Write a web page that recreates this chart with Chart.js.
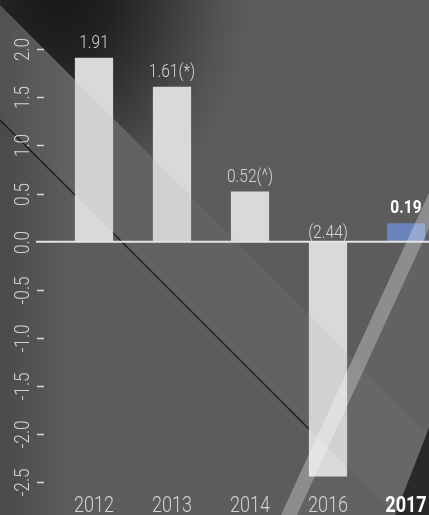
<!DOCTYPE html>
<html>
<head>
<meta charset="utf-8">
<script src="https://cdn.jsdelivr.net/npm/chart.js@4/dist/chart.umd.min.js"></script>
<style>
    html, body { margin: 0; padding: 0; background: #5c5c5c; overflow: hidden; }
    #wrap { width: 429px; height: 515px; overflow: hidden; }
    canvas { display: block; }
</style>
</head>
<body>
<div id="wrap"><canvas id="chart" width="460" height="515"></canvas></div>
<script>
const years = ['2012', '2013', '2014', '2016', '2017'];
const values = [1.91, 1.61, 0.52, -2.44, 0.19];
const valueLabels = ['1.91', '1.61(*)', '0.52(^)', '(2.44)', '0.19'];
const yTicks = [2.0, 1.5, 1.0, 0.5, 0.0, -0.5, -1.0, -1.5, -2.0, -2.5];

const FONT = 'Roboto, "Liberation Sans", sans-serif';
const HIGHLIGHT = 4; // last year is highlighted
const TEXT = '#d4d4d4';

function poly(ctx, pts, fill) {
    ctx.beginPath();
    ctx.moveTo(pts[0][0], pts[0][1]);
    for (let i = 1; i < pts.length; i++) ctx.lineTo(pts[i][0], pts[i][1]);
    ctx.closePath();
    ctx.fillStyle = fill;
    ctx.fill();
}

// condensed-looking text: squeeze along the text direction
function label(ctx, text, x, y, font, color, rot) {
    ctx.save();
    ctx.translate(x, y);
    if (rot) ctx.rotate(rot);
    ctx.scale(0.82, 1);
    ctx.font = font;
    ctx.fillStyle = color;
    ctx.textAlign = 'center';
    ctx.textBaseline = 'alphabetic';
    ctx.fillText(text, 0, 0);
    ctx.restore();
}

const decor = {
    id: 'decor',
    beforeDraw(chart) {
        const ctx = chart.ctx;
        const w = chart.width, h = chart.height;
        ctx.save();
        ctx.fillStyle = '#5c5c5c';
        ctx.fillRect(0, 0, w, h);

        // darker left edge
        const lg = ctx.createLinearGradient(0, 0, 70, 0);
        lg.addColorStop(0, 'rgba(0,0,0,0.2)');
        lg.addColorStop(1, 'rgba(0,0,0,0)');
        ctx.fillStyle = lg;
        ctx.fillRect(0, 0, 70, h);

        // lighter band between the two diagonals
        poly(ctx, [[0, 5], [w, w + 5], [w, w + 120], [0, 120]], 'rgba(255,255,255,0.03)');

        // dark wedge top-left (elliptical falloff)
        ctx.save();
        ctx.beginPath();
        ctx.moveTo(0, 0); ctx.lineTo(0, 5); ctx.lineTo(w, w + 5); ctx.lineTo(w, 0);
        ctx.closePath();
        ctx.clip();
        ctx.translate(60, -20);
        ctx.scale(1, 260 / 190);
        const rg = ctx.createRadialGradient(0, 0, 0, 0, 0, 190);
        rg.addColorStop(0, '#151515');
        rg.addColorStop(0.3, '#222222');
        rg.addColorStop(0.5, '#333333');
        rg.addColorStop(0.7, '#464646');
        rg.addColorStop(0.85, '#535353');
        rg.addColorStop(1, '#5c5c5c');
        ctx.fillStyle = rg;
        ctx.fillRect(-100, -20, 600, 600);
        ctx.restore();

        // thin dark diagonal
        ctx.beginPath();
        ctx.moveTo(0, 120);
        ctx.lineTo(312, 432);
        ctx.strokeStyle = 'rgba(15,15,15,0.85)';
        ctx.lineWidth = 1.5;
        ctx.stroke();

        // bottom right
        poly(ctx, [[297, 515], [429, 228], [429, 428], [395, 515]], 'rgba(255,255,255,0.04)');
        poly(ctx, [[395, 515], [429, 428], [w, 428], [w, h]], '#232323');
        ctx.restore();
    },
    afterDatasetsDraw(chart) {
        const ctx = chart.ctx;
        const xScale = chart.scales.x;
        const yScale = chart.scales.y;
        const zeroY = yScale.getPixelForValue(0);
        ctx.save();

        // band tint over bars
        poly(ctx, [[0, 5], [460, 465], [460, 580], [0, 120]], 'rgba(110,110,110,0.08)');

        // light stripe
        poly(ctx, [[281, 515], [297, 515], [429, 228], [429, 193]], 'rgba(255,255,255,0.3)');

        // zero line
        ctx.beginPath();
        ctx.moveTo(36, zeroY);
        ctx.lineTo(chart.width, zeroY);
        ctx.strokeStyle = '#e4e4e4';
        ctx.lineWidth = 2;
        ctx.stroke();

        // y ticks, rotated
        ctx.strokeStyle = '#d8d8d8';
        ctx.lineWidth = 1.5;
        yTicks.forEach(v => {
            const y = Math.round(yScale.getPixelForValue(v)) + 0.5;
            if (v !== 0) {
                ctx.beginPath();
                ctx.moveTo(37, y);
                ctx.lineTo(44, y);
                ctx.stroke();
            }
            label(ctx, v.toFixed(1), 28.5, y, '300 21px ' + FONT, TEXT, -Math.PI / 2);
        });

        // x labels
        years.forEach((yr, i) => {
            const x = xScale.getPixelForValue(i);
            const hi = i === HIGHLIGHT;
            label(ctx, yr, x, 511.5, (hi ? 'bold ' : '300 ') + '22px ' + FONT, hi ? '#ffffff' : TEXT);
        });

        // value labels
        const meta = chart.getDatasetMeta(0);
        meta.data.forEach((bar, i) => {
            const v = values[i];
            if (i === HIGHLIGHT) {
                label(ctx, valueLabels[i], bar.x, bar.y - 10, 'bold 19px ' + FONT, '#ffffff');
            } else {
                const y = v >= 0 ? bar.y - 9.5 : zeroY - 3.5;
                label(ctx, valueLabels[i], bar.x, y, '300 19px ' + FONT, TEXT);
            }
        });
        ctx.restore();
    }
};

new Chart(document.getElementById('chart'), {
    type: 'bar',
    data: {
        labels: years,
        datasets: [{
            data: values,
            backgroundColor: ctx => ctx.dataIndex === HIGHLIGHT ? '#6983bb' : '#d9d9d9',
            borderWidth: 0,
            barPercentage: 0.49,
            categoryPercentage: 1
        }]
    },
    options: {
        responsive: false,
        animation: false,
        layout: { padding: { left: 55, right: 15, top: 1, bottom: 25 } },
        plugins: { legend: { display: false }, tooltip: { enabled: false } },
        scales: {
            x: {
                offset: true,
                display: false
            },
            y: {
                display: false,
                min: -2.58,
                max: 2.5
            }
        }
    },
    plugins: [decor]
});
</script>
</body>
</html>
